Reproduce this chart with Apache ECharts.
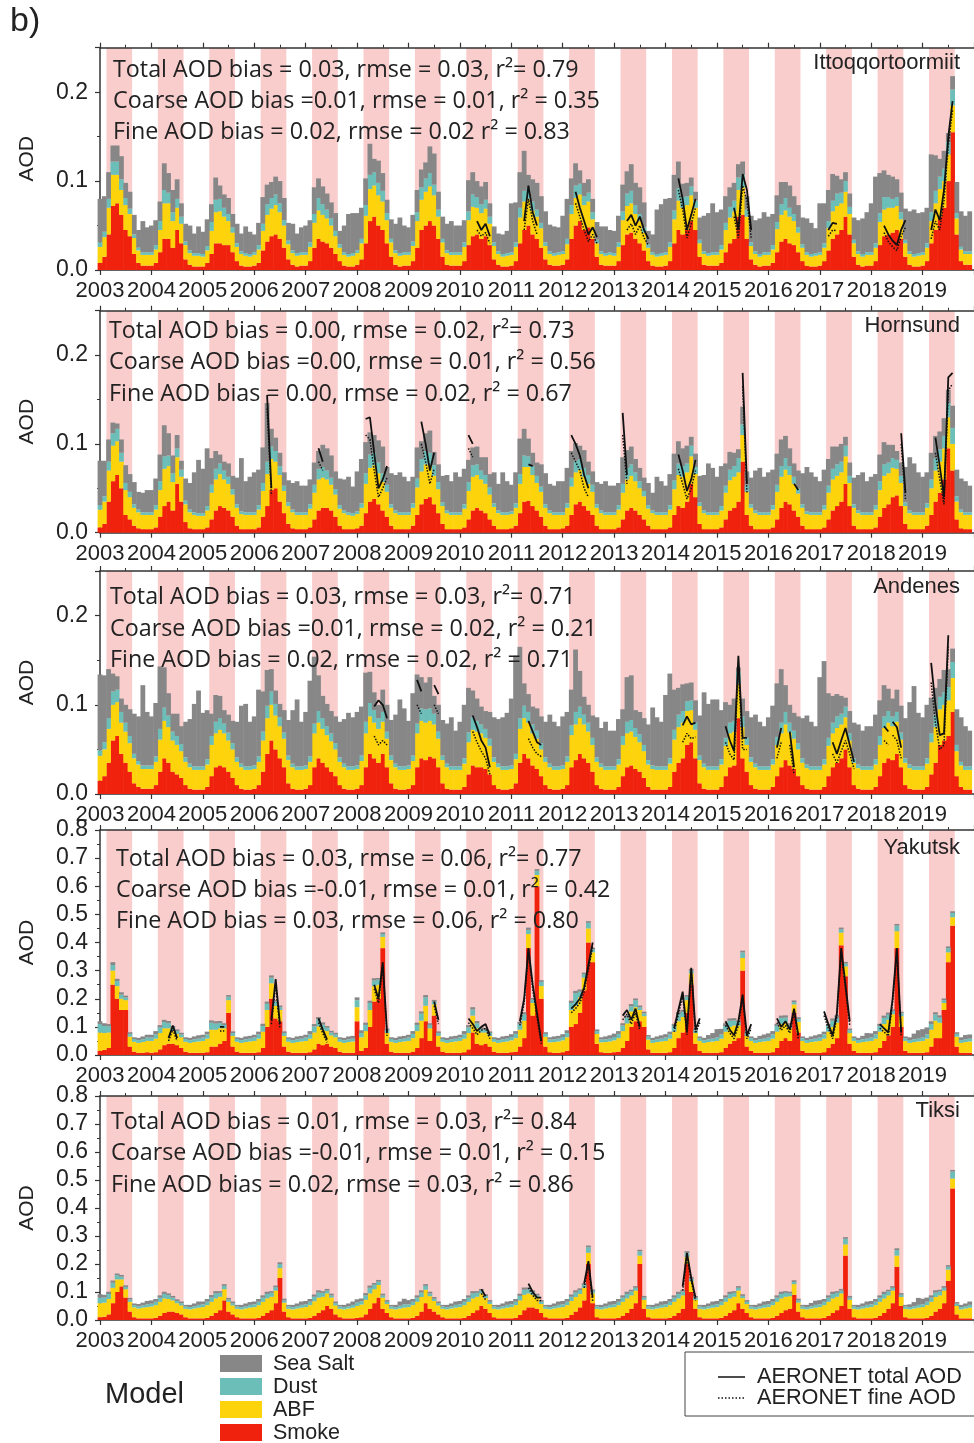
<!DOCTYPE html>
<html><head><meta charset="utf-8">
<script src="https://cdn.jsdelivr.net/npm/echarts@6/dist/echarts.min.js"></script>
<style>html,body{margin:0;padding:0;background:#fff;}#c{width:974px;height:1443px;}</style>
</head><body><div id="c"></div>
<script>
// ---------- DATA (monthly model AOD components, units of 0.001 AOD, Jan 2003 .. Dec 2019) ----------
const yearLabels = ['2003','2004','2005','2006','2007','2008','2009','2010','2011','2012','2013','2014','2015','2016','2017','2018','2019'];
const stationNames = ['Ittoqqortoormiit','Hornsund','Andenes','Yakutsk','Tiksi'];

const itto_smoke = [
8,15,40,72,75,62,45,38,18,8,5,5,
5,8,20,35,35,25,45,30,12,6,4,4,
4,8,18,30,30,28,28,20,10,5,4,4,
5,8,22,32,38,40,35,25,12,6,4,5,
5,10,25,35,32,30,25,18,10,5,4,4,
6,12,30,55,60,50,45,30,15,6,4,5,
5,10,25,45,50,55,50,35,15,6,5,5,
5,10,28,38,40,35,38,28,12,6,4,4,
5,10,30,45,50,40,35,25,12,6,5,5,
6,12,35,50,55,45,48,35,15,6,5,5,
5,10,28,40,42,35,30,22,10,5,4,4,
5,10,30,45,40,45,55,45,15,6,5,5,
5,8,20,30,35,60,62,35,12,6,4,5,
5,8,20,32,35,30,28,20,10,5,4,4,
5,10,22,35,40,45,60,40,15,6,4,5,
5,10,28,38,40,42,45,35,15,6,4,4,
5,10,30,45,60,70,100,155,40,10,6,6];
const itto_abf = [
18,22,30,35,32,28,28,25,18,14,12,12,
12,15,25,40,40,30,25,22,16,13,12,12,
11,14,26,35,36,32,27,22,16,13,12,11,
12,15,22,30,31,33,30,25,17,13,12,12,
12,16,28,32,30,28,25,20,15,12,11,12,
13,18,31,36,35,34,32,26,16,13,12,12,
12,17,30,34,38,39,34,25,16,13,12,12,
12,16,28,33,30,29,31,24,15,12,11,12,
12,16,29,32,30,27,25,22,15,12,11,12,
12,17,28,31,30,28,29,22,15,12,11,12,
11,16,28,32,33,28,25,20,15,12,11,12,
12,16,27,33,30,28,29,25,15,12,11,12,
12,15,25,29,31,30,31,25,15,12,11,12,
12,15,26,30,32,30,27,22,15,12,11,12,
12,15,25,31,32,30,28,23,15,12,11,12,
12,15,26,30,30,28,27,22,15,12,11,12,
12,15,25,30,31,30,30,30,18,13,12,12];
const itto_dust = [
5,6,10,15,15,12,8,6,4,3,3,3,
3,5,10,15,12,10,10,8,4,3,3,3,
3,5,10,14,14,10,8,6,4,3,3,3,
3,5,8,12,12,12,10,6,4,3,3,3,
3,5,10,14,12,10,8,6,4,3,3,3,
3,5,12,16,15,14,12,8,4,3,3,3,
3,5,10,14,15,15,12,8,4,3,3,3,
3,5,10,14,12,10,10,8,4,3,3,3,
3,5,11,12,12,10,8,6,4,3,3,3,
3,6,10,14,12,10,10,8,4,3,3,3,
3,5,10,14,14,10,8,6,4,3,3,3,
3,5,10,14,12,10,10,8,4,3,3,3,
3,5,8,12,12,14,14,8,4,3,3,3,
3,5,8,12,14,10,8,6,4,3,3,3,
3,5,8,12,14,12,12,8,4,3,3,3,
3,5,10,14,12,10,10,8,4,3,3,3,
3,5,10,14,14,14,14,18,6,3,3,3];
const itto_salt = [
49,40,30,18,18,26,17,19,22,20,35,28,
30,28,22,30,22,25,22,15,20,28,22,30,
25,30,20,25,15,15,18,15,22,20,30,25,
20,25,30,22,18,20,25,25,20,30,22,28,
30,25,30,22,20,18,18,20,15,30,45,45,
42,35,30,35,15,25,20,15,22,30,40,30,
28,30,25,20,18,30,35,20,25,30,35,30,
30,25,35,25,18,20,20,15,18,20,22,25,
55,45,40,45,15,25,30,30,35,30,30,28,
40,45,30,25,15,15,15,15,20,28,30,25,
25,30,30,25,30,25,30,28,15,20,50,55,
60,50,40,30,15,15,10,10,25,40,45,55,
45,40,30,22,20,15,15,15,30,35,40,45,
40,35,30,25,18,25,20,25,30,38,35,28,
55,45,35,30,20,15,10,15,25,35,40,45,
55,75,45,30,25,25,20,22,35,45,50,45,
45,40,65,40,20,20,10,15,35,40,40,45];

const hrn_smoke = [
6,10,35,58,65,50,20,15,8,5,4,4,
4,6,18,30,35,25,55,35,12,5,4,4,
4,6,15,25,30,28,25,18,8,4,4,4,
4,6,18,30,48,50,35,22,10,5,4,4,
4,6,15,25,28,28,25,18,8,4,4,4,
5,8,22,35,38,32,25,18,8,4,4,4,
4,8,20,32,38,40,32,22,10,4,4,4,
4,6,15,25,28,25,22,15,8,4,4,4,
5,8,22,35,36,30,25,18,8,4,4,4,
5,8,20,32,35,30,25,20,8,4,4,4,
4,6,15,25,28,25,20,15,8,4,4,4,
4,6,20,30,28,35,55,40,10,4,4,4,
4,6,15,25,28,35,80,20,8,4,4,4,
4,6,15,28,35,32,25,18,8,4,4,4,
4,6,15,25,30,35,55,30,8,4,4,4,
4,6,18,28,32,40,42,30,10,4,4,4,
4,8,20,35,45,60,95,70,15,5,4,4];
const hrn_abf = [
20,25,35,40,38,30,28,25,20,18,16,16,
16,20,30,42,40,32,30,28,20,18,16,15,
15,19,30,35,36,32,30,25,20,17,16,16,
16,20,29,36,35,30,30,25,20,18,16,16,
16,21,30,35,34,32,29,25,19,18,16,15,
16,20,33,38,38,35,32,28,20,18,16,16,
16,20,31,37,39,36,32,27,20,18,16,16,
16,21,32,38,37,35,33,28,21,18,16,16,
16,20,33,39,38,35,31,28,20,18,16,16,
15,20,32,36,36,33,30,26,20,18,16,16,
16,20,30,35,36,33,30,26,19,18,16,16,
16,20,29,35,35,33,31,26,20,18,16,16,
16,19,30,34,35,33,30,26,20,18,16,16,
16,20,31,35,36,33,30,26,20,17,16,16,
16,20,30,35,34,33,31,26,20,18,16,16,
16,20,30,36,35,33,30,26,20,18,16,16,
16,20,30,35,35,35,35,30,20,18,16,16];
const hrn_dust = [
5,6,10,14,14,10,8,6,4,3,3,3,
3,5,10,14,12,10,10,8,4,3,3,3,
3,5,9,12,12,10,8,6,4,3,3,3,
3,5,9,14,14,12,10,6,4,3,3,3,
3,5,9,12,12,10,8,6,4,3,3,3,
3,5,12,15,14,12,10,8,4,3,3,3,
3,5,10,14,15,14,12,8,4,3,3,3,
3,5,10,13,12,10,10,8,4,3,3,3,
3,5,11,13,12,10,8,6,4,3,3,3,
3,5,10,13,12,10,10,8,4,3,3,3,
3,5,10,13,13,10,8,6,4,3,3,3,
3,5,10,13,12,10,12,8,4,3,3,3,
3,5,8,12,12,16,12,8,4,3,3,3,
3,5,8,12,13,10,8,6,4,3,3,3,
3,5,8,12,13,12,12,8,4,3,3,3,
3,5,10,13,12,11,10,8,4,3,3,3,
3,5,10,14,14,14,16,18,6,3,3,3];
const hrn_salt = [
50,40,25,12,6,15,20,20,25,20,22,25,
25,30,30,35,25,20,15,10,25,30,45,60,
50,65,30,20,10,10,15,15,30,60,35,40,
45,40,40,66,20,15,15,15,25,30,35,30,
30,28,25,20,25,25,25,20,30,35,40,30,
45,50,35,25,20,25,30,20,35,40,45,40,
35,30,35,20,20,25,15,20,30,40,35,45,
40,40,25,20,20,15,20,15,35,30,45,35,
30,35,40,30,20,15,15,25,35,30,30,35,
35,40,30,20,15,20,15,15,25,30,35,30,
30,25,30,20,20,15,15,15,25,20,40,35,
30,35,30,25,20,20,10,15,30,40,55,50,
40,45,25,20,15,10,20,15,30,45,50,40,
45,40,35,30,25,20,15,20,35,50,45,40,
35,40,30,25,20,20,10,15,30,40,45,35,
40,35,30,25,20,15,10,15,40,60,55,45,
40,35,30,25,20,20,15,25,30,35,35,30];

const and_smoke = [
15,20,35,60,65,45,35,25,12,8,6,6,
6,10,25,40,35,25,22,18,10,6,5,5,
5,8,20,30,32,30,25,18,10,6,5,5,
6,10,25,45,60,50,40,30,12,6,5,5,
6,10,30,40,35,30,25,20,10,6,5,5,
6,10,30,45,40,35,45,30,12,6,5,5,
6,10,30,40,38,42,40,30,12,6,5,5,
5,8,22,32,30,30,28,22,10,6,5,5,
6,12,35,45,40,32,28,20,10,6,5,5,
6,10,30,38,45,40,35,25,10,6,5,5,
5,8,20,30,32,28,25,18,8,5,5,5,
5,8,25,35,40,55,58,40,12,6,5,5,
5,8,20,30,32,85,40,25,10,6,5,5,
5,8,20,30,38,32,28,20,10,6,5,5,
5,8,20,30,35,40,50,30,10,6,5,5,
5,8,20,35,40,38,45,30,10,6,5,5,
5,8,22,35,55,60,65,92,20,8,5,5];
const and_abf = [
28,30,38,40,38,35,35,32,28,25,22,22,
22,26,36,42,40,35,33,30,26,24,22,22,
22,25,35,38,40,38,35,32,26,24,22,22,
22,26,35,40,40,38,36,32,26,24,22,22,
22,26,38,40,38,36,34,30,26,24,22,22,
22,27,38,42,40,38,36,32,26,24,22,22,
22,27,38,42,42,40,38,32,26,24,22,22,
22,26,36,40,40,38,35,32,26,24,22,22,
22,27,38,40,40,36,34,30,26,24,22,22,
22,26,36,40,40,38,35,30,26,24,22,22,
22,25,35,38,38,36,33,30,25,23,22,22,
22,26,36,40,40,38,36,32,26,24,22,22,
22,25,34,38,38,38,35,30,26,24,22,22,
22,25,35,38,40,37,34,30,25,23,22,22,
22,25,34,38,39,38,36,30,25,23,22,22,
22,25,35,39,40,38,36,31,25,23,22,22,
22,26,36,40,40,40,40,38,28,24,22,22];
const and_dust = [
6,8,12,15,14,12,10,8,5,4,4,4,
4,6,12,15,13,10,10,8,5,4,4,4,
4,6,10,13,13,11,9,7,5,4,4,4,
4,6,10,14,15,13,10,7,5,4,4,4,
4,6,11,13,12,10,9,7,5,4,4,4,
4,6,13,15,14,12,11,8,5,4,4,4,
4,6,11,14,15,14,12,8,5,4,4,4,
4,6,11,14,12,10,10,8,5,4,4,4,
4,6,12,14,12,10,9,7,5,4,4,4,
4,6,11,14,13,11,10,8,5,4,4,4,
4,6,10,13,13,10,9,7,5,4,4,4,
4,6,11,14,13,11,11,8,5,4,4,4,
4,6,9,12,12,14,12,8,5,4,4,4,
4,6,9,12,14,11,9,7,5,4,4,4,
4,6,9,12,13,12,12,8,5,4,4,4,
4,6,10,13,13,11,11,8,5,4,4,4,
4,6,10,14,14,14,15,18,7,4,4,4];
const and_salt = [
85,75,55,20,15,15,20,30,45,50,90,60,
55,60,70,45,25,20,25,20,40,50,70,85,
60,55,25,30,25,15,20,25,40,65,70,50,
55,75,45,40,25,15,15,25,40,60,75,50,
60,85,75,40,25,25,25,30,40,50,60,55,
60,55,55,35,20,15,25,30,40,55,75,65,
50,70,55,35,30,35,20,30,40,45,55,40,
50,60,50,30,25,20,20,30,45,50,55,60,
75,110,80,25,20,20,25,30,40,55,50,45,
55,50,40,70,40,20,20,25,45,40,50,40,
40,45,30,50,50,20,25,30,40,65,55,50,
80,95,45,30,30,20,20,25,45,80,70,75,
75,55,40,20,25,5,20,30,45,55,50,45,
55,60,60,60,30,20,20,30,45,55,50,45,
100,110,50,30,25,20,10,25,40,45,40,45,
45,50,40,35,25,20,25,30,45,70,90,60,
55,60,40,30,20,25,20,15,40,50,45,40];

const yak_smoke = [
15,18,25,250,200,160,160,30,12,8,8,10,
8,10,20,35,40,40,35,25,12,8,8,8,
8,10,30,30,40,50,150,30,12,8,8,8,
8,10,25,100,200,130,120,30,12,8,8,8,
8,10,20,40,35,40,30,25,12,8,8,8,
120,15,25,100,190,200,380,40,12,8,8,8,
8,12,25,60,120,50,140,30,12,8,8,8,
8,10,20,80,40,35,40,30,12,8,8,8,
10,12,30,60,380,140,600,200,30,10,8,8,
10,15,100,110,150,230,400,330,40,10,8,8,
10,12,25,50,100,120,120,100,20,8,8,8,
8,10,25,60,80,150,250,40,15,8,8,8,
8,10,25,40,50,60,300,30,15,8,8,8,
8,10,25,50,60,50,150,80,15,8,8,8,
8,10,25,40,60,390,280,40,15,8,8,8,
8,10,25,50,70,100,380,100,15,8,8,8,
8,10,30,60,60,160,330,460,30,8,8,8];
const yak_abf = [
65,60,55,50,45,40,35,35,35,35,38,40,
42,48,58,60,55,45,40,38,35,35,38,40,
42,48,60,60,55,45,45,38,35,35,38,40,
42,48,58,60,55,45,40,38,35,35,38,40,
42,48,60,62,55,45,40,38,35,35,38,40,
50,48,60,60,55,50,40,38,35,35,38,40,
42,48,60,62,55,45,40,38,35,35,38,40,
42,48,58,60,55,45,40,38,35,35,38,40,
42,48,60,62,50,45,40,45,35,35,38,40,
42,48,60,65,55,45,50,35,35,35,38,40,
42,48,60,62,55,50,40,38,35,35,38,40,
42,48,58,60,55,45,40,38,35,35,38,40,
42,48,58,60,55,45,45,38,35,35,38,40,
42,48,58,60,55,45,30,38,35,35,38,40,
42,48,58,60,55,45,35,38,35,35,38,40,
42,48,58,60,55,45,60,38,35,35,38,40,
42,48,60,62,55,25,35,30,35,35,38,40];
const yak_dust = [
30,25,22,20,18,15,10,10,10,10,10,12,
12,15,20,22,18,12,10,10,10,10,10,10,
12,15,25,22,18,12,12,10,10,10,10,10,
12,15,20,22,20,15,10,10,10,10,10,10,
12,15,22,25,18,12,10,10,10,10,10,10,
25,15,22,25,20,18,10,10,10,10,10,10,
12,15,22,25,30,12,10,10,10,10,10,10,
12,15,20,22,18,12,10,10,10,10,10,10,
12,15,20,22,15,12,15,15,10,10,10,10,
12,15,25,45,20,12,20,10,10,10,10,10,
12,15,20,22,18,25,10,10,10,10,10,10,
12,15,20,25,18,12,10,10,10,10,10,10,
12,15,20,22,18,12,20,10,10,10,10,10,
12,15,20,22,18,12,8,10,10,10,10,10,
12,15,20,22,18,12,10,10,10,10,10,10,
12,15,20,22,18,12,20,10,10,10,10,10,
12,15,20,22,18,10,15,15,10,10,10,10];
const yak_salt = [
10,10,8,10,8,8,6,6,6,8,10,10,
10,12,8,8,8,6,6,6,6,8,10,12,
10,10,8,8,8,6,6,6,6,8,10,10,
10,10,8,8,8,6,6,6,6,8,10,10,
10,12,8,8,8,6,6,6,6,8,10,10,
10,10,8,8,8,6,6,6,6,8,10,10,
10,10,8,8,8,6,6,6,6,8,10,10,
10,12,8,8,8,6,6,6,6,8,10,10,
10,10,8,8,8,6,6,6,6,8,10,10,
10,10,8,8,8,6,6,6,6,8,10,12,
12,10,8,8,8,6,6,6,6,8,10,12,
12,10,8,8,8,6,6,6,6,8,15,20,
30,20,10,8,8,6,6,6,6,8,12,15,
15,12,8,8,8,6,6,6,6,8,10,12,
12,10,8,8,8,6,6,6,6,8,12,20,
15,12,8,8,8,6,6,6,6,10,20,30,
30,25,10,8,8,6,6,6,6,10,15,15];

const tik_smoke = [
10,12,20,60,100,120,80,30,10,6,6,6,
6,8,15,25,30,30,25,20,10,6,6,6,
6,8,15,25,35,70,30,20,10,6,6,6,
6,8,15,25,35,60,150,30,10,6,6,6,
6,8,15,25,35,50,40,20,10,6,6,6,
8,10,20,40,60,80,40,25,10,6,6,6,
6,8,15,30,60,40,30,20,10,6,6,6,
6,8,15,25,35,50,40,25,10,6,6,6,
6,8,18,35,45,45,40,25,10,6,6,6,
6,8,18,30,45,70,200,60,10,6,6,6,
6,8,15,25,40,60,200,40,10,6,6,6,
6,8,15,25,40,200,100,40,10,6,6,6,
6,8,15,25,35,60,40,25,10,6,6,6,
6,8,15,25,35,40,90,30,10,6,6,6,
6,8,15,25,35,50,230,40,10,6,6,6,
6,8,15,25,40,60,190,50,10,6,6,6,
6,8,15,30,40,60,140,470,20,6,6,6];
const tik_abf = [
50,50,55,55,45,25,30,35,35,35,38,40,
42,45,50,52,45,40,35,32,30,32,35,38,
40,45,50,52,48,40,35,32,30,32,35,38,
40,45,50,52,48,45,35,32,30,32,35,38,
40,45,52,55,48,45,40,32,30,32,35,38,
42,45,52,55,50,45,40,32,30,32,35,38,
40,45,50,52,48,45,38,32,30,32,35,38,
40,45,50,52,48,45,38,32,30,32,35,38,
40,45,52,55,50,45,40,32,30,32,35,38,
40,45,50,52,48,45,40,35,30,32,35,38,
40,45,50,52,48,45,30,32,30,32,35,38,
40,45,50,52,48,25,38,32,30,32,35,38,
40,45,50,52,48,45,38,32,30,32,35,38,
40,45,50,52,48,45,38,32,30,32,35,38,
40,45,50,52,48,45,40,32,30,32,35,38,
40,45,50,52,48,45,40,32,30,32,35,38,
40,45,50,52,48,45,40,35,30,32,35,38];
const tik_dust = [
20,18,18,18,15,10,8,8,8,8,8,10,
10,12,15,16,14,10,8,8,8,8,8,10,
10,12,16,18,14,12,8,8,8,8,8,10,
10,12,15,16,14,12,15,8,8,8,8,10,
10,12,16,18,14,10,8,8,8,8,8,10,
12,12,16,20,16,12,8,8,8,8,10,12,
10,12,15,16,14,10,8,8,8,8,8,10,
10,12,15,18,14,10,8,8,8,8,8,10,
10,12,16,18,15,10,8,8,8,8,8,10,
10,12,15,16,14,10,20,8,8,8,8,10,
10,12,15,16,14,10,15,8,8,8,8,10,
10,12,15,16,14,15,10,8,8,8,8,10,
10,12,15,16,14,10,8,8,8,8,8,10,
10,12,15,16,14,10,8,8,8,8,8,10,
10,12,15,16,14,10,20,8,8,8,8,10,
10,12,15,16,14,10,20,8,8,8,8,10,
10,12,15,16,14,10,10,25,8,8,8,10];
const tik_salt = [
12,10,8,8,6,6,6,6,6,8,10,12,
12,10,8,8,6,6,6,6,6,8,10,12,
10,10,8,8,6,6,6,6,6,8,10,10,
10,10,8,8,6,6,6,6,6,8,10,12,
12,10,8,8,6,6,6,6,6,8,10,12,
12,10,8,8,6,6,6,6,6,8,15,20,
15,10,8,8,6,6,6,6,6,8,10,12,
12,10,8,8,6,6,6,6,6,8,10,12,
12,10,8,8,6,6,6,6,6,8,10,12,
12,10,8,8,6,6,6,6,6,8,10,12,
12,10,8,8,6,6,6,6,6,8,10,12,
12,10,8,8,6,6,6,6,6,8,10,12,
12,10,8,8,6,6,6,6,6,8,10,12,
12,10,8,8,6,6,6,6,6,8,12,15,
15,10,8,8,6,6,6,6,6,8,10,12,
12,10,8,8,6,6,6,6,6,10,15,25,
20,15,8,8,6,6,6,6,6,8,10,12];

// AERONET monthly AOD segments: [first month index (0 = Jan 2003), values x0.001 ...]
const itto_aer_total = [[88,55,45,52,38],[99,55,95,65,50],[111,88,70,55,40,48,37],[123,55,62,50,60,45,35],[135,103,80,45,62,80],[148,70,45,108,90,45],[170,45,53,52],[183,50,40,33,28,45,56],[194,45,68,56,90,150,190]];
const itto_aer_fine  = [[88,45,38,42,30],[99,45,80,55,40],[111,75,60,45,32,40,30],[123,45,52,40,50,36,28],[135,90,68,36,52,70],[148,60,36,95,78,36],[170,38,45,44],[183,42,32,26,22,38,48],[194,35,55,45,78,140,180]];
const hrn_aer_total = [[39,155,50],[51,95,80],[62,128,130,90,50,60,75],[75,125,100,70,90],[86,110,100],[100,77,75],[110,110,100,87,65,50],[122,135,65],[135,88,70,47,60,82],[150,180,55],[162,55,48],[187,112,45],[195,107,75,40,175,180]];
const hrn_aer_fine  = [[39,140,42],[51,80,70],[62,110,105,70,40,50,62],[75,100,80,55,72],[86,95,85],[110,90,80,70,50,40],[122,110,55],[135,72,55,38,50,70],[150,165,45],[187,100,38],[195,90,60,32,160,168]];
const and_aer_total = [[64,98,105,100,85],[74,128,115],[78,122,112],[87,88,75,60,52,30],[100,82,70,58,55],[136,77,87,78,80],[146,76,60,48,155,63,63],[158,52,74],[161,70,30],[171,58,45,60,74,55,36],[183,76,70],[185,81,75,52],[194,147,100,66,68,178]];
const and_aer_fine  = [[64,65,55,60,55],[74,100,90],[78,100,90],[87,70,58,48,40,22],[100,62,52,45,42],[136,58,68,62,64],[146,58,45,38,140,50,50],[158,40,58],[161,55,22],[171,45,35,48,60,45,28],[183,60,55],[185,66,60,40],[194,125,80,50,55,165]];
const yak_aer_total = [[16,60,105,60],[28,100,100],[40,125,270,110],[51,130,90,55],[64,250,200,330,80],[78,190,125],[86,130,110,85,100,110,70],[98,120,200,380,250,150,50],[110,165,180,200,240,320,400],[122,140,160,125,165,100],[134,95,160,225,85,310,90,130],[146,120,90,70,120,215,70,110],[158,130,100,120,90,165,70],[169,155,110,70,150,380,250,120],[182,110,95,80,200,380,80]];
const yak_aer_fine  = [[16,50,90,50],[28,85,85],[40,110,250,95],[51,115,78,45],[64,235,185,315,68],[78,175,110],[86,115,95,72,88,95,58],[98,105,185,365,235,135,40],[110,150,165,185,225,305,385],[122,125,145,110,150,88],[134,82,145,210,72,295,78,115],[146,105,78,58,105,200,58,95],[158,115,88,105,78,150,58],[169,140,95,58,135,365,235,105],[182,95,82,68,185,365,68]];
const tik_aer_total = [[89,110,85],[100,130,100,80,80],[113,130,210,80],[136,120,240,150,80]];
const tik_aer_fine  = [[89,95,72],[100,115,88,70,70],[113,115,195,68],[136,105,225,140,68]];

const itto_stats = ['Total AOD bias = 0.03, rmse = 0.03, r\u00b2= 0.79','Coarse AOD bias =0.01, rmse = 0.01, r\u00b2 = 0.35','Fine AOD bias = 0.02, rmse = 0.02 r\u00b2 = 0.83'];
const hrn_stats  = ['Total AOD bias = 0.00, rmse = 0.02, r\u00b2= 0.73','Coarse AOD bias =0.00, rmse = 0.01, r\u00b2 = 0.56','Fine AOD bias = 0.00, rmse = 0.02, r\u00b2 = 0.67'];
const and_stats  = ['Total AOD bias = 0.03, rmse = 0.03, r\u00b2= 0.71','Coarse AOD bias =0.01, rmse = 0.02, r\u00b2 = 0.21','Fine AOD bias = 0.02, rmse = 0.02, r\u00b2 = 0.71'];
const yak_stats  = ['Total AOD bias = 0.03, rmse = 0.06, r\u00b2= 0.77','Coarse AOD bias =-0.01, rmse = 0.01, r\u00b2 = 0.42','Fine AOD bias = 0.03, rmse = 0.06, r\u00b2 = 0.80'];
const tik_stats  = ['Total AOD bias = 0.01, rmse = 0.03, r\u00b2= 0.84','Coarse AOD bias =-0.01, rmse = 0.01, r\u00b2 = 0.15','Fine AOD bias = 0.02, rmse = 0.03, r\u00b2 = 0.86'];

const componentNames = ['Smoke','ABF','Dust','Sea Salt'];
const legendModel = ['Sea Salt','Dust','ABF','Smoke'];
const legendAeronet = ['AERONET total AOD','AERONET fine AOD'];

// ---------- STYLE / LAYOUT ----------
const COLORS = {'Smoke':'#f0220e','ABF':'#fdd30c','Dust':'#6cbfb9','Sea Salt':'#878787'};
const PINK = '#facdcd';
const AX = '#333';
const TXT = '#222';
const LAB_FONT = '"Liberation Sans", Arial, sans-serif';
const STAT_FONT = '"Open Sans", "Noto Sans", sans-serif';

const stations = [
  {smoke:itto_smoke, abf:itto_abf, dust:itto_dust, salt:itto_salt, tot:itto_aer_total, fine:itto_aer_fine, stats:itto_stats},
  {smoke:hrn_smoke, abf:hrn_abf, dust:hrn_dust, salt:hrn_salt, tot:hrn_aer_total, fine:hrn_aer_fine, stats:hrn_stats},
  {smoke:and_smoke, abf:and_abf, dust:and_dust, salt:and_salt, tot:and_aer_total, fine:and_aer_fine, stats:and_stats},
  {smoke:yak_smoke, abf:yak_abf, dust:yak_dust, salt:yak_salt, tot:yak_aer_total, fine:yak_aer_fine, stats:yak_stats},
  {smoke:tik_smoke, abf:tik_abf, dust:tik_dust, salt:tik_salt, tot:tik_aer_total, fine:tik_aer_fine, stats:tik_stats}
];
const layout = [
  {top:47.7, h:222.3, ymax:0.25, statX:113, statY:[70,101,132], nameY:63},
  {top:310.7, h:222, ymax:0.25, statX:109, statY:[331,362,394], nameY:326},
  {top:571, h:223, ymax:0.25, statX:110, statY:[597,629,660], nameY:587},
  {top:830, h:225, ymax:0.8, statX:116, statY:[859,890,921], nameY:848},
  {top:1096, h:224, ymax:0.8, statX:111, statY:[1122,1153,1185], nameY:1111}
];
const NMONTH = yearLabels.length * 12;           // 204 months
const monthCats = Array.from({length: NMONTH + 1}, (_, k) => String(k)); // category slots Jan2003..Jan2020

function segData(segs){
  const out = [];
  segs.forEach(s => {
    const st = s[0];
    for (let k = 1; k < s.length; k++) out.push([st + k - 1, s[k] / 1000]);
    out.push([st + s.length - 1, '-']);
  });
  return out;
}

const grids = [], xAxes = [], yAxes = [], series = [], graphics = [];
const axLine = {show:true, lineStyle:{color:AX, width:1.5}};
stations.forEach((st, i) => {
  const L = layout[i];
  grids.push({left:100, width:885, top:L.top, height:L.h, containLabel:false});
  xAxes.push({gridIndex:i, type:'category', data:monthCats, boundaryGap:false, position:'bottom',
    axisLine:axLine,
    axisTick:{show:true, length:5, interval:(idx) => idx % 12 === 0, lineStyle:{color:AX, width:1.2}},
    axisLabel:{fontSize:22, color:TXT, fontFamily:LAB_FONT, margin:10,
      interval:(idx) => idx % 12 === 0 && idx < NMONTH,
      formatter:(v, idx) => yearLabels[Math.round(idx / 12)] || ''},
    splitLine:{show:false}});
  xAxes.push({gridIndex:i, type:'value', min:0, max:NMONTH, interval:12, position:'top',
    axisLine:axLine, axisLabel:{show:false},
    axisTick:{show:true, length:5, lineStyle:{color:AX, width:1.2}},
    minorTick:{show:true, splitNumber:2, length:3, lineStyle:{color:AX, width:1}},
    splitLine:{show:false}, minorSplitLine:{show:false}});
  yAxes.push({gridIndex:i, type:'value', min:0, max:L.ymax, interval:0.1,
    name:'AOD', nameLocation:'middle', nameGap:62,
    nameTextStyle:{fontSize:21, color:TXT, fontFamily:LAB_FONT},
    axisLine:axLine,
    axisTick:{show:true, length:5, lineStyle:{color:AX, width:1.2}},
    minorTick:{show:true, splitNumber:2, length:3, lineStyle:{color:AX, width:1}},
    splitLine:{show:false}, minorSplitLine:{show:false},
    axisLabel:{fontSize:23, color:TXT, fontFamily:LAB_FONT, margin:12, showMaxLabel: L.ymax > 0.5,
      formatter: v => v.toFixed(1)}});

  series.push({type:'line', xAxisIndex:2*i+1, yAxisIndex:i, data:[[0,0]], symbol:'none', silent:true, z:0,
    lineStyle:{opacity:0},
    markArea:{silent:true, z:0, itemStyle:{color:PINK},
      data: yearLabels.map((y, k) => [{xAxis:k*12+1.5}, {xAxis:k*12+7.5}])}});

  const comps = [st.smoke, st.abf, st.dust, st.salt];
  comps.forEach((arr, c) => {
    series.push({
      type:'bar', name:componentNames[c], xAxisIndex:2*i, yAxisIndex:i, stack:'st'+i,
      data: arr.map(v => v/1000), barWidth:4.8,
      itemStyle:{color:COLORS[componentNames[c]]}, silent:true, z:2
    });
  });
  series.push({type:'line', name:'AERONET total AOD', xAxisIndex:2*i, yAxisIndex:i, data:segData(st.tot),
    symbol:'none', connectNulls:false, silent:true, z:5, lineStyle:{color:'#111', width:1.8}});
  series.push({type:'line', name:'AERONET fine AOD', xAxisIndex:2*i, yAxisIndex:i, data:segData(st.fine),
    symbol:'none', connectNulls:false, silent:true, z:5, lineStyle:{color:'#111', width:1.5, type:'dotted'}});

  st.stats.forEach((t, j) => graphics.push({type:'text', x:L.statX, y:L.statY[j], z:50,
    style:{text:t, fontSize:23.3, fontFamily:STAT_FONT, fill:TXT, align:'left', verticalAlign:'middle'}}));
  graphics.push({type:'text', x:960, y:L.nameY, z:50,
    style:{text:stationNames[i], fontSize:22, fontFamily:LAB_FONT, fill:TXT, align:'right', verticalAlign:'middle'}});
});

graphics.push({type:'text', x:10, y:22, style:{text:'b)', fontSize:34, fontFamily:LAB_FONT, fill:TXT, align:'left', verticalAlign:'middle'}});
graphics.push({type:'text', x:105, y:1395, style:{text:'Model', fontSize:29, fontFamily:LAB_FONT, fill:TXT, align:'left', verticalAlign:'middle'}});
legendModel.forEach((n, k) => {
  graphics.push({type:'rect', shape:{x:220, y:1355 + 23*k, width:42, height:17}, style:{fill:COLORS[n]}});
  graphics.push({type:'text', x:273, y:1364 + 23*k, style:{text:n, fontSize:21.5, fontFamily:LAB_FONT, fill:TXT, align:'left', verticalAlign:'middle'}});
});
graphics.push({type:'rect', shape:{x:685, y:1352, width:300, height:64}, style:{fill:'#fff', stroke:'#444', lineWidth:1}});
graphics.push({type:'line', shape:{x1:718, y1:1377, x2:745, y2:1377}, style:{stroke:'#111', lineWidth:1.5}});
graphics.push({type:'line', shape:{x1:718, y1:1398, x2:745, y2:1398}, style:{stroke:'#111', lineWidth:1.3, lineDash:[1.5,2]}});
legendAeronet.forEach((n, k) => graphics.push({type:'text', x:757, y:1377 + 21*k,
  style:{text:n, fontSize:21.7, fontFamily:LAB_FONT, fill:TXT, align:'left', verticalAlign:'middle'}}));

const chart = echarts.init(document.getElementById('c'), null, {renderer:'canvas'});
chart.setOption({
  animation:false, backgroundColor:'#fff',
  grid:grids, xAxis:xAxes, yAxis:yAxes, series:series, graphic:graphics
});
</script></body></html>
